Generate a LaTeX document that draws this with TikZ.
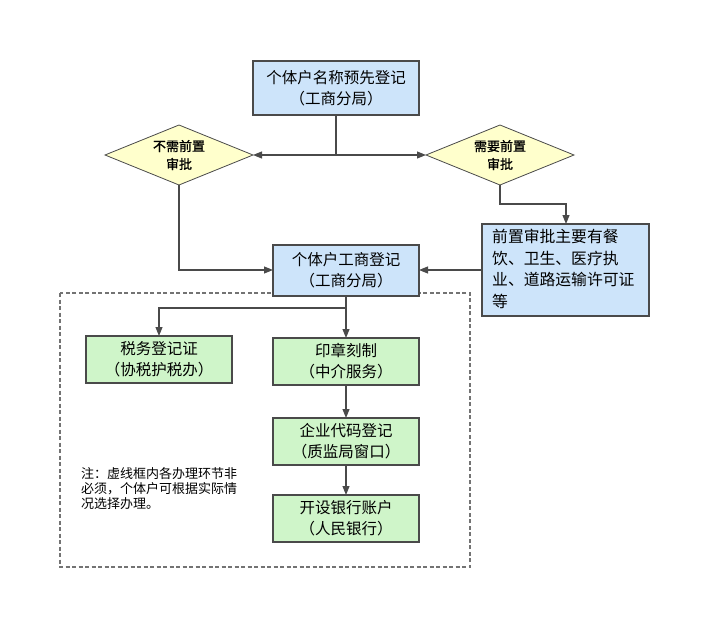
\documentclass[tikz,border=0pt]{standalone}
\usepackage{fontspec}
\setmainfont{Noto Sans CJK SC}
\newfontfamily\diafont[FakeBold=1.2]{Noto Sans CJK SC}
\usetikzlibrary{arrows.meta,shapes.geometric}
\definecolor{bluefill}{HTML}{CDE4FA}
\definecolor{greenfill}{HTML}{CFF5C9}
\definecolor{yellowfill}{HTML}{FFFFCC}
\definecolor{edge}{HTML}{4A4A4A}
\begin{document}
\begin{tikzpicture}[x=1pt,y=-1pt,
  boxtext/.style={font=\fontsize{15.5}{21}\selectfont, align=center, text=black, inner sep=0pt},
  bluebox/.style={draw=edge, line width=1.1pt, fill=bluefill, inner sep=0pt},
  greenbox/.style={draw=edge, line width=1.1pt, fill=greenfill, inner sep=0pt},
  decision/.style={draw=edge, line width=0.8pt, fill=yellowfill},
  diatext/.style={font=\diafont\fontsize{13}{18}\selectfont, align=center, inner sep=0pt},
  conn/.style={draw=edge, line width=1.1pt, -{Triangle[length=9pt,width=7pt]}},
  plainline/.style={draw=edge, line width=1.1pt}]
\useasboundingbox (0,0) rectangle (710,626);
\fill[white] (0,0) rectangle (710,626);

% dashed frame
\draw[draw=gray!90!black, line width=1.2pt, dash pattern=on 4pt off 2.5pt] (60,293) rectangle (470,567);

% boxes
\draw[bluebox] (253,61) rectangle (419,115);
\node[boxtext] (top) at (336,88) {个体户名称预先登记\\（工商分局）};
\coordinate (topS) at (336,115);

\draw[bluebox] (273,245) rectangle (419,296);
\node[boxtext] (mid) at (346,270.5) {个体户工商登记\\（工商分局）};
\coordinate (midW) at (273,270);
\coordinate (midE) at (419,270);
\coordinate (midS) at (346,296);

\draw[bluebox] (482,224) rectangle (649,316);
\node[font=\fontsize{15.8}{21.5}\selectfont, align=left, anchor=north west, inner sep=0pt] (pre) at (492,229) {前置审批主要有餐\\饮、卫生、医疗执\\业、道路运输许可证\\等};
\coordinate (preN) at (566,224);
\coordinate (preW) at (482,270);

% diamonds
\draw[decision] (105,155) -- (179,125) -- (253,155) -- (179,185) -- cycle;
\node[diatext] (dl) at (179,155) {不需前置\\审批};
\coordinate (dlE) at (253,155);
\coordinate (dlS) at (179,185);
\draw[decision] (426,155) -- (500,125) -- (574,155) -- (500,185) -- cycle;
\node[diatext] (dr) at (500,155) {需要前置\\审批};
\coordinate (drW) at (426,155);
\coordinate (drS) at (500,185);

% green boxes
\draw[greenbox] (86,336) rectangle (232,383);
\node[boxtext] (tax) at (159,359.5) {税务登记证\\（协税护税办）};
\coordinate (taxN) at (159,336);

\draw[greenbox] (273,338) rectangle (419,385);
\node[boxtext] (seal) at (346,361.5) {印章刻制\\（中介服务）};
\coordinate (sealN) at (346,338);
\coordinate (sealS) at (346,385);

\draw[greenbox] (273,418) rectangle (419,465);
\node[boxtext] (code) at (346,441.5) {企业代码登记\\（质监局窗口）};
\coordinate (codeN) at (346,418);
\coordinate (codeS) at (346,465);

\draw[greenbox] (273,495) rectangle (419,542);
\node[boxtext] (bank) at (346,518.5) {开设银行账户\\（人民银行）};
\coordinate (bankN) at (346,495);

% note
\node[font=\fontsize{13}{15}\selectfont, align=left, anchor=north west, inner sep=0pt] (note) at (81,467) {注：虚线框内各办理环节非\\必须，个体户可根据实际情\\况选择办理。};

% connectors
\coordinate (split) at (336,155);
\draw[plainline] (topS) -- (split);
\draw[conn] (split) -- (dlE);
\draw[conn] (split) -- (drW);
\draw[conn] (dlS) |- (midW);
\draw[conn] (drS) -- (500,204) -| (preN);
\draw[conn] (preW) -- (midE);
\coordinate (fork) at (346,308);
\draw[plainline] (midS) -- (fork);
\draw[conn] (fork) -| (taxN);
\draw[conn] (fork) -- (sealN);
\draw[conn] (sealS) -- (codeN);
\draw[conn] (codeS) -- (bankN);
\end{tikzpicture}
\end{document}
